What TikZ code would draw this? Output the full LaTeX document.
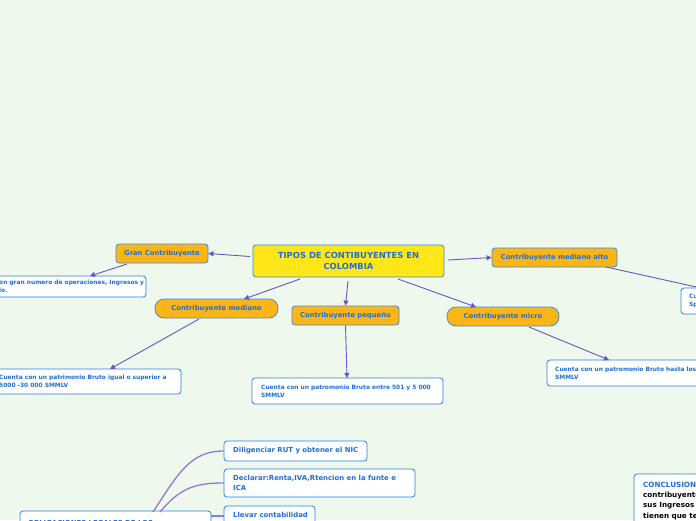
\documentclass[tikz,border=0pt]{standalone}
\usepackage{fontspec}
\setmainfont{DejaVu Sans}
\usetikzlibrary{arrows.meta}
\definecolor{bg}{HTML}{EFF8EC}
\definecolor{txtblue}{HTML}{1F6FD6}
\definecolor{bordblue}{HTML}{3D8EE0}
\definecolor{leafblue}{HTML}{2A80E8}
\definecolor{topyel}{HTML}{FFE618}
\definecolor{orng}{HTML}{FBB516}
\definecolor{conn}{HTML}{6A55C8}
\definecolor{connlt}{HTML}{8F7BD6}
\tikzset{
  base/.style={font=\bfseries\fontsize{5.9}{7.6}\selectfont, text=txtblue, align=left, inner sep=0pt},
  topbox/.style={base, draw=bordblue, fill=topyel, rounded corners=3pt, line width=0.8pt,
     font=\bfseries\fontsize{8.4}{10.8}\selectfont, align=center, minimum width=191pt, minimum height=32pt},
  catbox/.style={base, draw=bordblue, fill=orng, rounded corners=3pt, line width=0.8pt,
     font=\bfseries\fontsize{6.8}{8}\selectfont, align=center, minimum height=19pt},
  pillbox/.style={catbox, rounded corners=9pt},
  leafbox/.style={draw=leafblue, fill=white, rounded corners=3pt, line width=0.8pt, inner sep=0pt},
  leaftxt/.style={base, anchor=west},
  bigtxt/.style={base, anchor=west, font=\bfseries\fontsize{6.9}{10}\selectfont},
  arr/.style={draw=conn, line width=0.9pt, -{Triangle[length=5pt,width=5pt]}},
  curv/.style={draw=connlt, line width=1.3pt}
}
\begin{document}
\begin{tikzpicture}[x=1pt,y=-1pt]
\fill[bg] (0,0) rectangle (696,520);
\useasboundingbox (0,0) rectangle (696,520);
\clip (0,0) rectangle (696,520);

% main and categories
\node[topbox] (main) at (348.5,261) {TIPOS DE CONTIBUYENTES EN\\COLOMBIA};
\node[catbox, minimum width=92pt] (gran) at (162,253.5) {Gran Contribuyente};
\node[catbox, minimum width=125pt] (malto) at (554.5,257.5) {Contribuyente mediano alto};
\node[pillbox, minimum width=123pt] (mediano) at (216.5,308.5) {Contribuyente mediano};
\node[catbox, minimum width=107pt] (pequeno) at (345.5,315.5) {Contribuyente pequeño};
\node[pillbox, minimum width=112pt] (micro) at (503,316.5) {Contribuyente micro};

% leaves
\node[leafbox, minimum width=266pt, minimum height=21pt] (leaf1) at (13,286.5) {};
\node[leaftxt] (leaf1t) at (-1,286.5) {on gran numero de operaciones, Ingresos y\\lo.};

\node[leafbox, minimum width=300pt, minimum height=25pt] (leaf2) at (31,381.5) {};
\node[leaftxt] (leaf2t) at (-1,381.5) {Cuenta con un patrimonio Bruto igual o superior a\\5000 -30 000 SMMLV};

\node[leafbox, minimum width=191pt, minimum height=26pt] (leaf3) at (347.5,391) {};
\node[leaftxt] (leaf3t) at (261,391) {Cuenta con un patromonio Bruto entre 501 y 5 000\\SMMLV};

\node[leafbox, minimum width=220pt, minimum height=26pt] (leaf4) at (657,373) {};
\node[leaftxt] (leaf4t) at (555,373) {Cuenta con un patromonio Bruto hasta los\\SMMLV};

\node[leafbox, minimum width=80pt, minimum height=26pt] (leaf5) at (721,301) {};
\node[leaftxt] (leaf5t) at (689,301) {Cu\\Sp};

% conclusion
\node[leafbox, minimum width=126pt, minimum height=90pt] (concl) at (697,519) {};
\node[base, anchor=north west, font=\bfseries\fontsize{7.2}{10.2}\selectfont, text=black] (conclt) at (643,482) {\textcolor{txtblue}{CONCLUSION}\\contribuyentes\\sus Ingresos\\tienen que te\\lo};

% obligations
\node[leafbox, minimum width=191pt, minimum height=30pt] (oblig) at (115.5,526) {};
\node[bigtxt] (obligt) at (28,523) {OBLIGACIONES LEGALES DE LOS};
\node[leafbox, minimum width=143pt, minimum height=20pt] (dil) at (295.5,451) {};
\node[bigtxt] (dilt) at (233,451) {Diligenciar RUT y obtener el NIC};
\node[leafbox, minimum width=191pt, minimum height=28pt] (decl) at (319.5,483) {};
\node[bigtxt] (declt) at (233,483) {Declarar:Renta,IVA,Rtencion en la funte e\\ICA};
\node[leafbox, minimum width=91pt, minimum height=20pt] (llev) at (269.5,516) {};
\node[bigtxt] (llevt) at (233,514.5) {Llevar contabilidad};

% connectors
\coordinate (mG) at (250,256.5);
\coordinate (mA) at (448,260);
\coordinate (mM) at (300,279);
\coordinate (mP) at (348,281);
\coordinate (mC) at (398,279);
\draw[arr] (mG) -- (gran.east);
\draw[arr] (mA) -- (malto.west);
\draw[arr] (mM) -- (244,299);
\draw[arr] (mP) -- (pequeno.north);
\draw[arr] (mC) -- (476,307);

\coordinate (gS) at (127,264);
\coordinate (l1N) at (90,276);
\draw[arr] (gS) -- (l1N);
\coordinate (meS) at (199,319);
\coordinate (l2N) at (110,369);
\draw[arr] (meS) -- (l2N);
\coordinate (l3N) at (347,378);
\draw[arr] (pequeno.south) -- (l3N);
\coordinate (miS) at (529,327);
\coordinate (l4N) at (609,360);
\draw[arr] (miS) -- (l4N);
\coordinate (maS) at (606,267);
\coordinate (l5N) at (710,290);
\draw[arr] (maS) -- (l5N);

\coordinate (o1) at (153,512);
\coordinate (o2) at (160,512);
\draw[curv] (o1) .. controls (178,474) and (190,451) .. (dil.west);
\draw[curv] (o2) .. controls (180,488) and (195,483) .. (decl.west);
\draw[curv] (oblig.east |- llev.west) -- (llev.west);
\end{tikzpicture}
\end{document}
